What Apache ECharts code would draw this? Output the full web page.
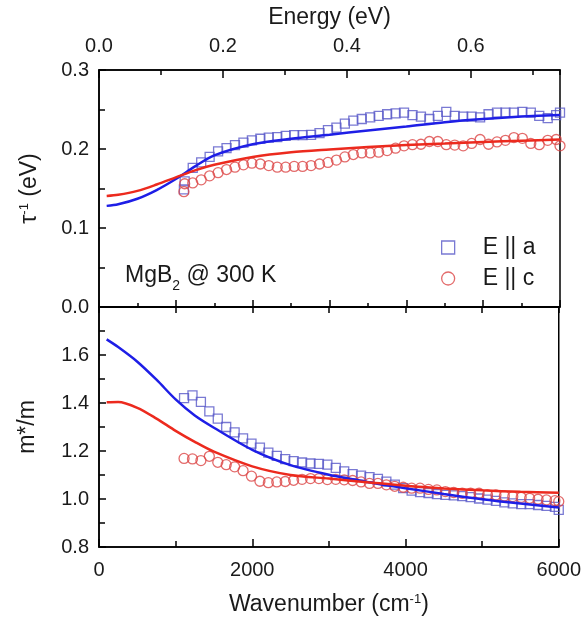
<!DOCTYPE html>
<html><head><meta charset="utf-8">
<script src="https://cdn.jsdelivr.net/npm/echarts@6/dist/echarts.min.js"></script>
<style>html,body{margin:0;padding:0;background:#fff}#c{width:584px;height:620px}</style>
</head><body><div id="c"></div>
<script>
// ---- data ----
const topX = [1105,1115,1220,1330,1440,1550,1660,1770,1880,1990,2100,2210,2320,2430,2540,2650,2760,2870,2980,3090,3200,3310,3420,3530,3640,3750,3860,3970,4080,4190,4300,4410,4520,4630,4740,4850,4960,5070,5180,5290,5400,5510,5620,5730,5840,5950,6000];
const tauA = [0.149,0.159,0.176,0.183,0.190,0.197,0.201,0.205,0.208,0.211,0.213,0.2145,0.215,0.2165,0.2175,0.2175,0.218,0.220,0.224,0.227,0.232,0.236,0.238,0.240,0.242,0.244,0.245,0.246,0.243,0.241,0.238,0.242,0.247,0.242,0.241,0.241,0.240,0.244,0.246,0.246,0.246,0.247,0.246,0.242,0.239,0.243,0.246];
const tauC = [0.146,0.156,0.157,0.161,0.166,0.170,0.174,0.177,0.180,0.182,0.181,0.179,0.177,0.177,0.178,0.178,0.179,0.181,0.183,0.186,0.190,0.193,0.195,0.195,0.196,0.198,0.201,0.204,0.2055,0.206,0.2095,0.2095,0.2055,0.205,0.204,0.207,0.212,0.206,0.209,0.211,0.2145,0.2135,0.207,0.2055,0.211,0.212,0.204];
const botX = [1110,1220,1330,1440,1550,1660,1770,1880,1990,2100,2210,2320,2430,2540,2650,2760,2870,2980,3090,3200,3310,3420,3530,3640,3750,3860,3970,4080,4190,4300,4410,4520,4630,4740,4850,4960,5070,5180,5290,5400,5510,5620,5730,5840,5950,6000];
const massA = [1.420,1.432,1.405,1.365,1.335,1.300,1.278,1.253,1.231,1.214,1.193,1.180,1.166,1.158,1.152,1.148,1.146,1.143,1.130,1.115,1.104,1.097,1.091,1.084,1.072,1.060,1.045,1.035,1.029,1.025,1.020,1.017,1.015,1.012,1.008,1.002,0.997,0.992,0.986,0.982,0.979,0.979,0.975,0.971,0.967,0.955];
const massC = [1.169,1.167,1.160,1.178,1.153,1.143,1.134,1.118,1.095,1.074,1.068,1.071,1.073,1.078,1.082,1.085,1.085,1.081,1.082,1.080,1.077,1.071,1.065,1.065,1.059,1.053,1.049,1.045,1.045,1.040,1.038,1.031,1.027,1.024,1.024,1.024,1.017,1.017,1.013,1.010,1.007,1.003,0.999,0.996,0.993,0.990];
const fitX = [100,250,500,750,1000,1250,1500,2000,2500,3000,3500,4000,4500,5000,5500,6000];
const fitTauA = [0.128,0.130,0.137,0.148,0.162,0.178,0.192,0.206,0.213,0.218,0.2235,0.2285,0.234,0.238,0.241,0.243];
const fitTauC = [0.1405,0.142,0.147,0.155,0.164,0.173,0.180,0.190,0.196,0.1995,0.2025,0.205,0.207,0.209,0.2105,0.212];
const fitMassA = [1.665,1.633,1.572,1.497,1.415,1.348,1.297,1.205,1.141,1.101,1.071,1.045,1.021,0.999,0.981,0.965];
const fitMassC = [1.403,1.404,1.380,1.335,1.284,1.238,1.197,1.136,1.100,1.085,1.070,1.055,1.044,1.036,1.030,1.026];
const seriesNames = ['E || a', 'E || c'];
const energyMax = 6000 / 8065.54; // eV at 6000 cm^-1

const pairs = (xs, ys) => xs.map((x, i) => [x, ys[i]]);
const FONT = '"Liberation Sans", Arial, sans-serif';
const TXT = '#1a1a1a';
const blueLine = '#1e1ee6', redLine = '#ec2a1e';
const blueSym = '#5858c8', redSym = '#dc4646';

const axLine = {show: true, lineStyle: {color: '#000', width: 1.5}};
const lbl = {fontFamily: FONT, fontSize: 20, color: TXT};
const nameStyle = {fontFamily: FONT, fontSize: 23, color: TXT};
const tk = {width: 1.5, color: '#000'};

const chart = echarts.init(document.getElementById('c'), null, {renderer: 'canvas'});
chart.setOption({
  animation: false,
  backgroundColor: '#fff',
  grid: [
    {left: 99, top: 70, width: 461, height: 237, show: true, borderColor: '#000', borderWidth: 1.5, backgroundColor: 'transparent'},
    {left: 99, top: 307, width: 461, height: 240, show: true, borderColor: '#000', borderWidth: 1.5, backgroundColor: 'transparent'}
  ],
  xAxis: [
    {gridIndex: 0, type: 'value', position: 'bottom', min: 0, max: 6000, interval: 1000,
     axisLine: axLine, axisTick: {inside: true, length: 7, lineStyle: tk},
     minorTick: {show: true, splitNumber: 2, length: 4, lineStyle: tk},
     axisLabel: {show: false}, splitLine: {show: false}},
    {gridIndex: 0, type: 'value', position: 'top', min: 0, max: energyMax, interval: 0.2,
     name: 'Energy (eV)', nameLocation: 'middle', nameGap: 41, nameTextStyle: nameStyle,
     axisLine: axLine, axisTick: {inside: true, length: 8, lineStyle: tk},
     axisLabel: Object.assign({margin: 14, showMaxLabel: false, formatter: v => v.toFixed(1)}, lbl),
     splitLine: {show: false}},
    {gridIndex: 0, type: 'value', position: 'top', min: 0, max: energyMax, interval: 0.1,
     axisLine: {show: false}, axisTick: {inside: true, length: 5, lineStyle: tk},
     axisLabel: {show: false}, splitLine: {show: false}},
    {gridIndex: 1, type: 'value', position: 'top', min: 0, max: 6000, interval: 1000,
     axisLine: axLine, axisTick: {inside: true, length: 6, lineStyle: tk},
     axisLabel: {show: false}, splitLine: {show: false}},
    {gridIndex: 1, type: 'value', position: 'bottom', min: 0, max: 6000, interval: 2000,
     name: 'Wavenumber (cm{sup|-1})', nameLocation: 'middle', nameGap: 46,
     nameTextStyle: Object.assign({rich: {sup: {fontFamily: FONT, fontSize: 13, color: TXT, verticalAlign: 'top', lineHeight: 14}}}, nameStyle),
     axisLine: axLine, axisTick: {inside: true, length: 8, lineStyle: tk},
     minorTick: {show: true, splitNumber: 2, length: 6, lineStyle: tk},
     axisLabel: Object.assign({margin: 13, formatter: v => String(v)}, lbl), splitLine: {show: false}}
  ],
  yAxis: [
    {gridIndex: 0, type: 'value', min: 0, max: 0.3, interval: 0.1,
     name: '\u03c4{sup|-1} (eV)', nameLocation: 'middle', nameGap: 58, nameRotate: 90,
     nameTextStyle: Object.assign({rich: {sup: {fontFamily: FONT, fontSize: 13, color: TXT, verticalAlign: 'top', lineHeight: 14}}}, nameStyle),
     axisLine: axLine, axisTick: {inside: true, length: 7, lineStyle: tk},
     minorTick: {show: true, splitNumber: 2, length: 6, lineStyle: tk},
     axisLabel: Object.assign({margin: 10, formatter: v => v.toFixed(1)}, lbl), splitLine: {show: false}},
    {gridIndex: 1, type: 'value', min: 0.8, max: 1.8, interval: 0.2,
     name: 'm*/m', nameLocation: 'middle', nameGap: 60, nameRotate: 90, nameTextStyle: nameStyle,
     axisLine: axLine, axisTick: {inside: true, length: 7, lineStyle: tk},
     minorTick: {show: true, splitNumber: 2, length: 6, lineStyle: tk},
     axisLabel: Object.assign({margin: 10, showMaxLabel: false, formatter: v => v.toFixed(1)}, lbl), splitLine: {show: false}}
  ],
  legend: {
    orient: 'vertical', left: 436, top: 231, itemWidth: 13, itemHeight: 13, itemGap: 8,
    textStyle: {fontFamily: FONT, fontSize: 23, color: TXT, padding: [0, 0, 0, 23]},
    selectedMode: false,
    data: [
      {name: seriesNames[0], icon: 'rect', itemStyle: {color: 'rgba(0,0,0,0)', borderColor: blueSym, borderWidth: 1.3}},
      {name: seriesNames[1], icon: 'circle', itemStyle: {color: 'rgba(0,0,0,0)', borderColor: redSym, borderWidth: 1.3}}
    ]
  },
  graphic: [{
    type: 'text', left: 125, top: 264,
    style: {text: 'MgB{sub|2} @ 300 K', fontFamily: FONT, fontSize: 23, fill: TXT,
      rich: {sub: {fontFamily: FONT, fontSize: 14, fill: TXT, verticalAlign: 'bottom', padding: [0, 0, -6, 0]}}}
  }],
  series: [
    {name: seriesNames[0], type: 'scatter', xAxisIndex: 0, yAxisIndex: 0, symbol: 'rect', symbolSize: 9,
     itemStyle: {color: 'rgba(0,0,0,0)', borderColor: blueSym, borderWidth: 1.3}, data: pairs(topX, tauA)},
    {name: seriesNames[1], type: 'scatter', xAxisIndex: 0, yAxisIndex: 0, symbol: 'circle', symbolSize: 10,
     itemStyle: {color: 'rgba(0,0,0,0)', borderColor: redSym, borderWidth: 1.3}, data: pairs(topX, tauC)},
    {name: seriesNames[0], type: 'scatter', xAxisIndex: 4, yAxisIndex: 1, symbol: 'rect', symbolSize: 9,
     itemStyle: {color: 'rgba(0,0,0,0)', borderColor: blueSym, borderWidth: 1.3}, data: pairs(botX, massA)},
    {name: seriesNames[1], type: 'scatter', xAxisIndex: 4, yAxisIndex: 1, symbol: 'circle', symbolSize: 10,
     itemStyle: {color: 'rgba(0,0,0,0)', borderColor: redSym, borderWidth: 1.3}, data: pairs(botX, massC)},
    {type: 'line', xAxisIndex: 0, yAxisIndex: 0, smooth: 0.3, showSymbol: false, lineStyle: {color: blueLine, width: 2.5}, data: pairs(fitX, fitTauA)},
    {type: 'line', xAxisIndex: 0, yAxisIndex: 0, smooth: 0.3, showSymbol: false, lineStyle: {color: redLine, width: 2.5}, data: pairs(fitX, fitTauC)},
    {type: 'line', xAxisIndex: 4, yAxisIndex: 1, smooth: 0.3, showSymbol: false, lineStyle: {color: blueLine, width: 2.5}, data: pairs(fitX, fitMassA)},
    {type: 'line', xAxisIndex: 4, yAxisIndex: 1, smooth: 0.3, showSymbol: false, lineStyle: {color: redLine, width: 2.5}, data: pairs(fitX, fitMassC)}
  ]
});
</script></body></html>
